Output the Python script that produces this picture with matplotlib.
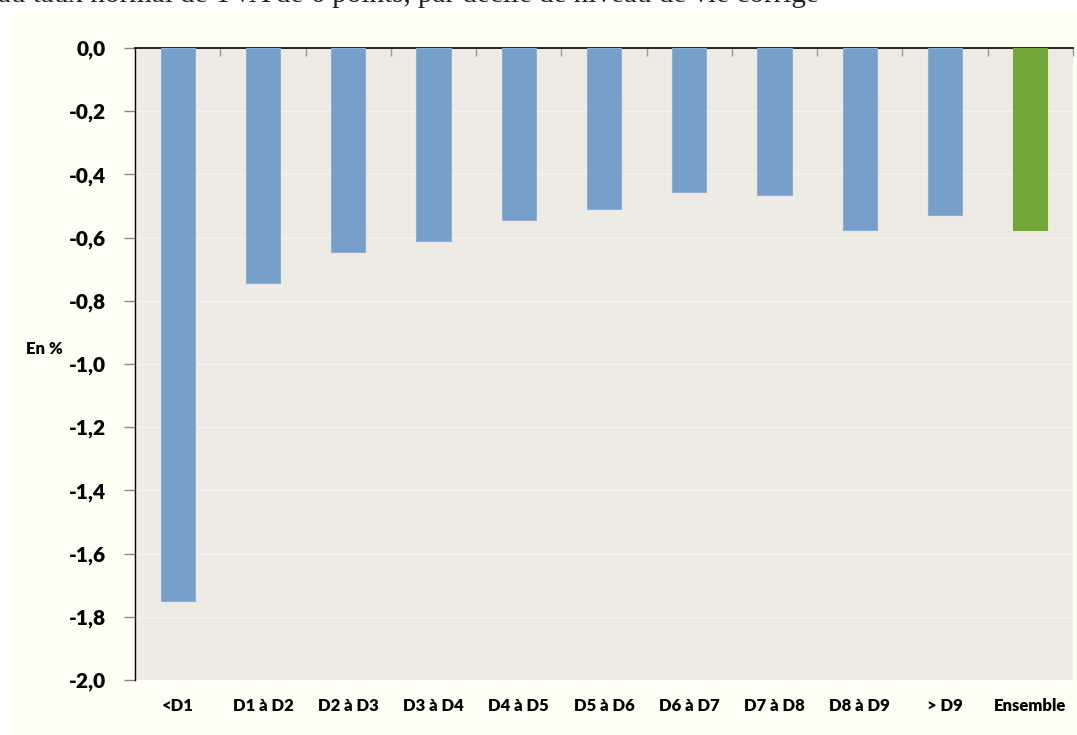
import matplotlib
matplotlib.use("Agg")
import matplotlib.pyplot as plt
from matplotlib.patches import Rectangle
from matplotlib.ticker import FixedLocator

categories = ["<D1", "D1 à D2", "D2 à D3", "D3 à D4", "D4 à D5", "D5 à D6",
              "D6 à D7", "D7 à D8", "D8 à D9", "> D9", "Ensemble"]
values = [-1.75, -0.745, -0.645, -0.61, -0.545, -0.51,
          -0.455, -0.465, -0.575, -0.53, -0.575]
y_ticks = [0.0, -0.2, -0.4, -0.6, -0.8, -1.0, -1.2, -1.4, -1.6, -1.8, -2.0]
title = "au taux normal de TVA de 6 points, par décile de niveau de vie corrigé"

W, H = 1077, 735
fig = plt.figure(figsize=(W / 100, H / 100), dpi=100, facecolor="white")

# ivory panel behind the chart
panel = Rectangle((10 / W, 0), 1 - 10 / W, 1 - 8 / H,
                  transform=fig.transFigure, facecolor="#FFFFF3",
                  edgecolor="none", zorder=-10)
fig.add_artist(panel)

# caption line, partly above the figure edge
fig.text(-2 / W, 1 + 5 / H, title, family="Liberation Serif", fontsize=21,
         ha="left", va="center", color="#222222", zorder=5)

ax = fig.add_axes([135 / W, 1 - 680 / H, (1073 - 135) / W, (680 - 48) / H])
ax.set_zorder(2)
ax.set_facecolor("#EEEBE5")

x = list(range(len(categories)))
colors = ["#769FC9"] * (len(categories) - 1) + ["#73A839"]
edges = ["#8DB0D4"] * (len(categories) - 1) + ["#73A839"]
ax.bar(x, values, width=0.4, color=colors, edgecolor=edges, linewidth=0.8, zorder=3)

ax.set_xlim(-0.5, len(categories) - 0.5)
ax.set_ylim(-2.0, 0.0)

ax.set_yticks(y_ticks)
ax.set_yticklabels([f"{v:.1f}".replace(".", ",") for v in y_ticks],
                   family="Lato", fontweight="heavy", fontsize=15)
ax.yaxis.grid(True, color="#F6F4F0", linewidth=1, zorder=1)
ax.set_axisbelow(True)
ax.tick_params(axis="y", direction="out", length=8, width=1, color="#888888", pad=13)

ax.set_xticks(x)
ax.set_xticklabels(categories, family="Lato", fontweight="heavy", fontsize=12)
ax.tick_params(axis="x", which="major", length=0, pad=13)
ax.xaxis.set_minor_locator(FixedLocator([i + 0.5 for i in range(len(categories))]))
ax.tick_params(axis="x", which="minor", top=True, bottom=False, direction="in",
               length=6, width=1, color="#999999")

for side in ("right", "bottom"):
    ax.spines[side].set_visible(False)
ax.spines["left"].set_color("black")
ax.spines["top"].set_color("black")
ax.spines["left"].set_linewidth(1)
ax.spines["top"].set_linewidth(1.2)

fig.text(44 / W, 1 - 349 / H, "En %", family="Lato", fontweight="heavy",
         fontsize=12, ha="center", va="center", zorder=5)

fig.savefig("out.png", dpi=100, facecolor=fig.get_facecolor())
